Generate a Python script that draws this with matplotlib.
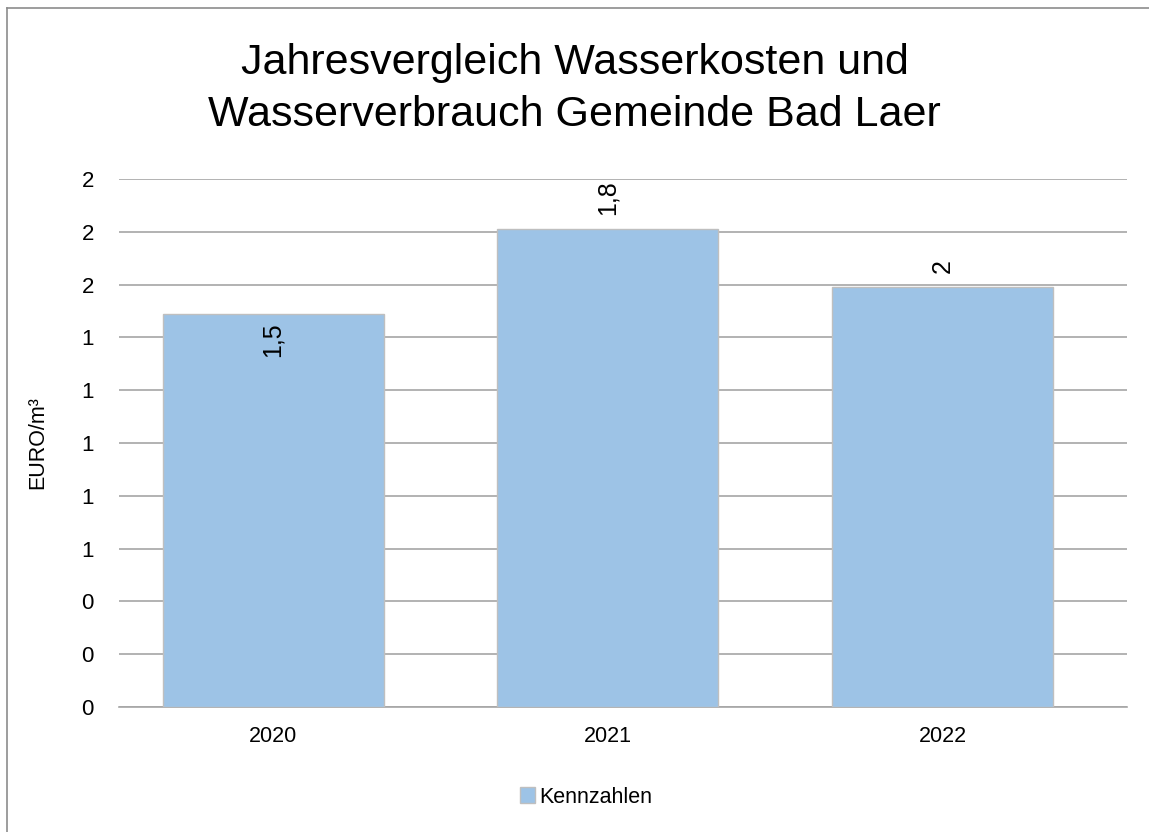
import matplotlib.pyplot as plt
from matplotlib.ticker import FuncFormatter, MultipleLocator
from matplotlib.lines import Line2D

years = ["2020", "2021", "2022"]
kosten = [1.49, 1.81, 1.59]
labels = ["1,5", "1,8", "2"]

plt.rcParams['font.family'] = ['Liberation Sans Narrow', 'Liberation Sans', 'DejaVu Sans']

fig = plt.figure(figsize=(11.49, 8.32), dpi=100)
ax = fig.add_axes([119 / 1149, 125 / 832, 1008 / 1149, 528 / 832])

x = range(len(years))
bars = ax.bar(x, kosten, width=0.66, color="#9DC3E6", edgecolor="#BFBFBF",
              linewidth=1, label="Kennzahlen", zorder=3)

# data labels, rotated like the original
for i, (b, t) in enumerate(zip(bars, labels)):
    h = b.get_height()
    if i == 0:
        ax.annotate(t, (b.get_x() + b.get_width() / 2, h), xytext=(0, -6),
                    textcoords="offset points", rotation=90, ha="center", va="top",
                    fontsize=18, zorder=4)
    else:
        ax.annotate(t, (b.get_x() + b.get_width() / 2, h), xytext=(0, 10),
                    textcoords="offset points", rotation=90, ha="center", va="bottom",
                    fontsize=18, zorder=4)

ax.set_xlim(-0.46, 2.55)
ax.set_ylim(0, 2.0)
ax.yaxis.set_major_locator(MultipleLocator(0.2))
ax.yaxis.set_major_formatter(FuncFormatter(lambda v, p: f"{v:.0f}"))
ax.set_xticks(list(x))
ax.set_xticklabels(years)

ax.grid(axis="y", color="#A6A6A6", linewidth=1.2, zorder=0)
for s in ["top", "right", "left"]:
    ax.spines[s].set_visible(False)
ax.spines["bottom"].set_color("#A6A6A6")
ax.spines["bottom"].set_linewidth(1.2)
ax.tick_params(axis="y", length=0, pad=18, labelsize=16)
ax.tick_params(axis="x", length=0, pad=14, labelsize=15.5)
ax.set_ylabel("EURO/m³", fontsize=15.5, labelpad=24)

fig.text(0.5, 0.893, "Jahresvergleich Wasserkosten und\nWasserverbrauch Gemeinde Bad Laer",
         ha="center", va="center", fontsize=31, linespacing=1.38)

fig.legend(handles=[bars], labels=["Kennzahlen"], loc="center",
           bbox_to_anchor=(0.51, 0.042), frameon=False, fontsize=15.5,
           handlelength=0.7, handleheight=0.7, handletextpad=0.2)

# outer chart frame (left and top visible)
fig.add_artist(Line2D([7 / 1149, 7 / 1149], [0, 1 - 8 / 832], color="#8C8C8C", linewidth=1.2,
                      transform=fig.transFigure))
fig.add_artist(Line2D([7 / 1149, 1], [1 - 8 / 832, 1 - 8 / 832], color="#8C8C8C", linewidth=1.2,
                      transform=fig.transFigure))

fig.savefig("out.png", dpi=100)
